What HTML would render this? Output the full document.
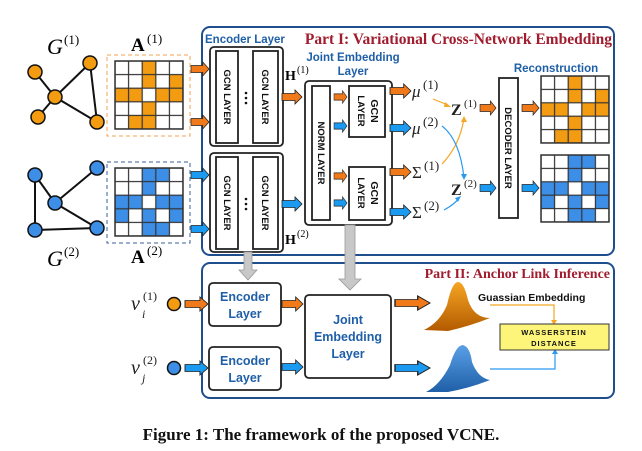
<!DOCTYPE html>
<html><head><meta charset="utf-8"><style>
body{margin:0;background:#fff;width:642px;height:451px;overflow:hidden}
svg{display:block}
.ss{font-family:"Liberation Sans",sans-serif;font-weight:bold}
.sr{font-family:"Liberation Serif",serif}
</style></head><body>
<svg width="642" height="451" viewBox="0 0 642 451" xmlns="http://www.w3.org/2000/svg">
<defs>
<path id="ar" d="M0,-3.5H13V-7L20,0L13,7V3.5H0Z" stroke="#222" stroke-width="0.8"/>
<pattern id="grid" x="0" y="0" width="13.6" height="13.6" patternUnits="userSpaceOnUse">
<rect width="13.6" height="13.6" fill="none" stroke="#333" stroke-width="1.2"/>
</pattern>
<linearGradient id="go" x1="0" y1="0" x2="0" y2="1"><stop offset="0" stop-color="#f5a623"/><stop offset="1" stop-color="#b35a00"/></linearGradient>
<linearGradient id="gb" x1="0" y1="0" x2="0" y2="1"><stop offset="0" stop-color="#5aa0e6"/><stop offset="1" stop-color="#1f5fa8"/></linearGradient>
</defs>

<rect x="202" y="27" width="412" height="228" rx="8" fill="none" stroke="#1f4e8c" stroke-width="2"/>
<rect x="202" y="263" width="412" height="135" rx="8" fill="none" stroke="#1f4e8c" stroke-width="2"/>
<text x="612" y="44" text-anchor="end" class="sr" font-weight="bold" font-size="15.5" fill="#a01c2e">Part I: Variational Cross-Network Embedding</text>
<text x="610" y="278" text-anchor="end" class="sr" font-weight="bold" font-size="14" fill="#a01c2e">Part II: Anchor Link Inference</text>

<g stroke="#111" stroke-width="2">
<line x1="35" y1="72" x2="55" y2="97"/><line x1="90" y1="63" x2="55" y2="97"/><line x1="55" y1="97" x2="38" y2="117"/><line x1="55" y1="97" x2="97" y2="122"/><line x1="90" y1="63" x2="97" y2="122"/>
</g>
<g fill="#f39c12" stroke="#111" stroke-width="1.5">
<circle cx="35" cy="72" r="7"/><circle cx="90" cy="63" r="7"/><circle cx="55" cy="97" r="7"/><circle cx="38" cy="117" r="7"/><circle cx="97" cy="122" r="7"/>
</g>
<text x="47" y="54" class="sr" font-style="italic" font-size="22">G</text><text x="64" y="44" class="sr" font-size="13">(1)</text>

<g stroke="#111" stroke-width="2">
<line x1="35" y1="175" x2="55" y2="203"/><line x1="97" y1="168" x2="55" y2="203"/><line x1="55" y1="203" x2="97" y2="228"/><line x1="35" y1="175" x2="35" y2="230"/><line x1="35" y1="230" x2="97" y2="228"/>
</g>
<g fill="#3d8ee6" stroke="#111" stroke-width="1.5">
<circle cx="35" cy="175" r="7"/><circle cx="97" cy="168" r="7"/><circle cx="55" cy="203" r="7"/><circle cx="35" cy="230" r="7"/><circle cx="97" cy="228" r="7"/>
</g>
<text x="47" y="266" class="sr" font-style="italic" font-size="22">G</text><text x="64" y="256" class="sr" font-size="13">(2)</text>

<rect x="107" y="55" width="83" height="81" fill="none" stroke="#f5a050" stroke-dasharray="4,3"/>
<g transform="translate(115,61)">
<rect width="68" height="68" fill="#fff"/>
<g fill="#f39c12">
<rect x="27.2" y="0" width="13.6" height="13.6"/>
<rect x="27.2" y="13.6" width="13.6" height="13.6"/><rect x="54.4" y="13.6" width="13.6" height="13.6"/>
<rect x="0" y="27.2" width="27.2" height="13.6"/><rect x="40.8" y="27.2" width="27.2" height="13.6"/>
<rect x="27.2" y="40.8" width="13.6" height="13.6"/>
<rect x="13.6" y="54.4" width="27.2" height="13.6"/>
</g>
<rect width="68" height="68" fill="url(#grid)" stroke="#333" stroke-width="1.5"/>
</g>
<text x="131" y="51" class="sr" font-weight="bold" font-size="19">A</text><text x="147" y="43" class="sr" font-size="13">(1)</text>

<rect x="107" y="162" width="83" height="81" fill="none" stroke="#3a5f9a" stroke-dasharray="4,3"/>
<g transform="translate(115,168)">
<rect width="68" height="68" fill="#fff"/>
<g fill="#3d8ee6">
<rect x="27.2" y="0" width="27.2" height="13.6"/>
<rect x="27.2" y="13.6" width="13.6" height="13.6"/>
<rect x="0" y="27.2" width="27.2" height="13.6"/><rect x="40.8" y="27.2" width="27.2" height="13.6"/>
<rect x="0" y="40.8" width="13.6" height="13.6"/><rect x="27.2" y="40.8" width="13.6" height="13.6"/><rect x="54.4" y="40.8" width="13.6" height="13.6"/>
<rect x="27.2" y="54.4" width="27.2" height="13.6"/>
</g>
<rect width="68" height="68" fill="url(#grid)" stroke="#333" stroke-width="1.5"/>
</g>
<text x="131" y="263" class="sr" font-weight="bold" font-size="19">A</text><text x="147" y="255" class="sr" font-size="13">(2)</text>

<use href="#ar" fill="#f07a1a" transform="translate(191,69) scale(0.9,1)"/>
<use href="#ar" fill="#f07a1a" transform="translate(191,122) scale(0.9,1)"/>
<use href="#ar" fill="#1a9af0" transform="translate(191,175) scale(0.9,1)"/>
<use href="#ar" fill="#1a9af0" transform="translate(191,229) scale(0.9,1)"/>

<text x="205" y="43" class="ss" font-size="11.5" fill="#1f5fa8">Encoder Layer</text>

<g fill="#fff" stroke="#222" stroke-width="1.8">
<rect x="210" y="47" width="73" height="99" rx="4"/>
<rect x="216" y="51" width="22" height="92"/><rect x="253" y="51" width="25" height="92"/>
<rect x="210" y="153" width="73" height="99" rx="4"/>
<rect x="216" y="157" width="22" height="92"/><rect x="253" y="157" width="25" height="92"/>
</g>
<g class="ss" font-size="9.5" fill="#111" text-anchor="middle">
<text transform="translate(224,97) rotate(90)">GCN LAYER</text>
<text transform="translate(262,97) rotate(90)">GCN LAYER</text>
<text transform="translate(224,203) rotate(90)">GCN LAYER</text>
<text transform="translate(262,203) rotate(90)">GCN LAYER</text>
</g>
<g fill="#111"><circle cx="246" cy="93" r="1.3"/><circle cx="246" cy="98" r="1.3"/><circle cx="246" cy="103" r="1.3"/>
<circle cx="246" cy="199" r="1.3"/><circle cx="246" cy="204" r="1.3"/><circle cx="246" cy="209" r="1.3"/></g>

<text x="285" y="80" class="sr" font-weight="bold" font-size="14">H</text><text x="297" y="73" class="sr" font-size="10">(1)</text>
<text x="285" y="244" class="sr" font-weight="bold" font-size="14">H</text><text x="297" y="237" class="sr" font-size="10">(2)</text>
<use href="#ar" fill="#f07a1a" transform="translate(282,97) scale(1,1)"/>
<use href="#ar" fill="#1a9af0" transform="translate(282,204) scale(1,1)"/>

<text x="353" y="61" text-anchor="middle" class="ss" font-size="11.5" fill="#1f5fa8">Joint Embedding</text>
<text x="353" y="75" text-anchor="middle" class="ss" font-size="11.5" fill="#1f5fa8">Layer</text>
<g fill="#fff" stroke="#222" stroke-width="1.8">
<rect x="305" y="81" width="87" height="144" rx="4"/>
<rect x="312" y="86" width="18" height="134"/>
<rect x="349" y="86" width="36" height="51"/>
<rect x="349" y="167" width="36" height="53"/>
</g>
<g class="ss" font-size="9.5" fill="#111" text-anchor="middle">
<text transform="translate(318,153) rotate(90)">NORM LAYER</text>
<text transform="translate(358,111) rotate(90)">LAYER</text>
<text transform="translate(371,111) rotate(90)" font-size="10.5">GCN</text>
<text transform="translate(358,193) rotate(90)">LAYER</text>
<text transform="translate(371,193) rotate(90)" font-size="10.5">GCN</text>
</g>
<use href="#ar" fill="#f07a1a" transform="translate(334,97) scale(0.65,0.9)"/>
<use href="#ar" fill="#1a9af0" transform="translate(334,126) scale(0.65,0.9)"/>
<use href="#ar" fill="#f07a1a" transform="translate(334,176) scale(0.65,0.9)"/>
<use href="#ar" fill="#1a9af0" transform="translate(334,203) scale(0.65,0.9)"/>

<use href="#ar" fill="#f07a1a" transform="translate(390,91) scale(1.05,1)"/>
<use href="#ar" fill="#1a9af0" transform="translate(390,128) scale(1.05,1)"/>
<use href="#ar" fill="#f07a1a" transform="translate(390,172) scale(1.05,1)"/>
<use href="#ar" fill="#1a9af0" transform="translate(390,212) scale(1.05,1)"/>
<g class="sr" fill="#222">
<text x="412" y="97" font-style="italic" font-size="17">μ</text><text x="423" y="89" font-size="13">(1)</text>
<text x="412" y="134" font-style="italic" font-size="17">μ</text><text x="423" y="126" font-size="13">(2)</text>
<text x="412" y="178" font-size="17">Σ</text><text x="424" y="170" font-size="13">(1)</text>
<text x="412" y="218" font-size="17">Σ</text><text x="424" y="210" font-size="13">(2)</text>
<text x="451" y="115" font-weight="bold" font-size="16">Z</text><text x="464" y="107" font-size="11">(1)</text>
<text x="451" y="195" font-weight="bold" font-size="16">Z</text><text x="464" y="187" font-size="11">(2)</text>
</g>
<g fill="none" stroke-width="1.2">
<path d="M433,99 L448,105" stroke="#f5a623"/>
<path d="M442,164 Q460,145 464,118" stroke="#f5a623"/>
<path d="M442,126 Q460,140 464,178" stroke="#2a9af0"/>
<path d="M444,210 Q455,204 459,198" stroke="#2a9af0"/>
</g>
<g>
<path d="M451,107 l-6,-5 l-1,5z" fill="#f5a623"/>
<path d="M464,116 l-3,6 l6,0z" fill="#f5a623"/>
<path d="M464,180 l-3,-6 l6,0z" fill="#2a9af0"/>
<path d="M461,196 l-6,2 l3,4z" fill="#2a9af0"/>
</g>
<use href="#ar" fill="#f07a1a" transform="translate(480,108) scale(0.8,1)"/>
<use href="#ar" fill="#1a9af0" transform="translate(480,188) scale(0.8,1)"/>

<rect x="499" y="78" width="19" height="140" fill="#fff" stroke="#222" stroke-width="1.8"/>
<text transform="translate(505,148) rotate(90)" text-anchor="middle" class="ss" font-size="9.5" fill="#111">DECODER LAYER</text>
<use href="#ar" fill="#f07a1a" transform="translate(522,108) scale(0.85,1)"/>
<use href="#ar" fill="#1a9af0" transform="translate(522,188) scale(0.85,1)"/>
<text x="556" y="72" text-anchor="middle" class="ss" font-size="11.5" fill="#1f5fa8">Reconstruction</text>

<g transform="translate(541,76) scale(1,0.985)">
<rect width="68" height="68" fill="#fff"/>
<g fill="#f39c12">
<rect x="27.2" y="0" width="13.6" height="13.6"/>
<rect x="27.2" y="13.6" width="13.6" height="13.6"/><rect x="54.4" y="13.6" width="13.6" height="13.6"/>
<rect x="0" y="27.2" width="27.2" height="13.6"/><rect x="40.8" y="27.2" width="27.2" height="13.6"/>
<rect x="27.2" y="40.8" width="13.6" height="13.6"/>
<rect x="13.6" y="54.4" width="27.2" height="13.6"/>
</g>
<rect width="68" height="68" fill="url(#grid)" stroke="#333" stroke-width="1.5"/>
</g>
<g transform="translate(541,155) scale(1,0.985)">
<rect width="68" height="68" fill="#fff"/>
<g fill="#3d8ee6">
<rect x="27.2" y="0" width="27.2" height="13.6"/>
<rect x="27.2" y="13.6" width="13.6" height="13.6"/>
<rect x="0" y="27.2" width="27.2" height="13.6"/><rect x="40.8" y="27.2" width="27.2" height="13.6"/>
<rect x="0" y="40.8" width="13.6" height="13.6"/><rect x="27.2" y="40.8" width="13.6" height="13.6"/><rect x="54.4" y="40.8" width="13.6" height="13.6"/>
<rect x="27.2" y="54.4" width="27.2" height="13.6"/>
</g>
<rect width="68" height="68" fill="url(#grid)" stroke="#333" stroke-width="1.5"/>
</g>

<path d="M244,252 H252 V270 H257 L248,280 L239,270 H244Z" fill="#c8c8c8" stroke="#999" stroke-width="0.8"/>
<path d="M345,225 H355 V279 H361 L350,290 L339,279 H345Z" fill="#c8c8c8" stroke="#999" stroke-width="0.8"/>

<g class="sr" fill="#222">
<text x="131" y="310" font-style="italic" font-size="20">v</text><text x="143" y="300" font-size="12">(1)</text><text x="142" y="318" font-style="italic" font-size="12">i</text>
<text x="131" y="374" font-style="italic" font-size="20">v</text><text x="143" y="364" font-size="12">(2)</text><text x="142" y="382" font-style="italic" font-size="12">j</text>
</g>
<circle cx="174" cy="304" r="6.5" fill="#f39c12" stroke="#111" stroke-width="1.5"/>
<circle cx="174" cy="368" r="6.5" fill="#3d8ee6" stroke="#111" stroke-width="1.5"/>
<use href="#ar" fill="#f07a1a" transform="translate(185,304) scale(1.15,1)"/>
<use href="#ar" fill="#1a9af0" transform="translate(185,368) scale(1.15,1)"/>
<g fill="#fff" stroke="#222" stroke-width="1.8">
<rect x="209" y="283" width="72" height="43" rx="4"/>
<rect x="209" y="347" width="72" height="43" rx="4"/>
<rect x="305" y="295" width="86" height="83" rx="4"/>
</g>
<g class="ss" font-size="12.5" fill="#1f5fa8" text-anchor="middle">
<text x="245" y="301">Encoder</text><text x="245" y="318">Layer</text>
<text x="245" y="365">Encoder</text><text x="245" y="382">Layer</text>
<text x="348" y="324">Joint</text><text x="348" y="341">Embedding</text><text x="348" y="358">Layer</text>
</g>
<use href="#ar" fill="#f07a1a" transform="translate(282,304) scale(1.05,1)"/>
<use href="#ar" fill="#1a9af0" transform="translate(282,367) scale(1.05,1)"/>
<use href="#ar" fill="#f07a1a" transform="translate(395,303) scale(1.75,1)"/>
<use href="#ar" fill="#1a9af0" transform="translate(395,368) scale(1.75,1)"/>
<path d="M424,330 Q440,322 447,305 Q452,282 458,282 Q464,282 468,300 Q474,318 490,318 Q470,326 448,331Z" fill="url(#go)"/>
<path d="M426,392 Q440,385 450,365 Q456,345 463,345 Q470,347 472,362 Q478,378 490,380 Q470,388 448,392Z" fill="url(#gb)"/>
<text x="478" y="301" class="ss" font-size="10.5" fill="#111">Guassian Embedding</text>
<polyline points="490,305 554,305 554,322" fill="none" stroke="#f5a623" stroke-width="1.2"/>
<path d="M551,320 h6 l-3,5z" fill="#f5a623"/>
<polyline points="490,369 555,369 555,352" fill="none" stroke="#2a9af0" stroke-width="1.2"/>
<path d="M552,354 h6 l-3,-5z" fill="#2a9af0"/>
<rect x="500" y="324" width="109" height="26" fill="#fdf57a" stroke="#333" stroke-width="1"/>
<text x="554" y="335" text-anchor="middle" class="ss" font-size="7.5" letter-spacing="1" fill="#111">WASSERSTEIN</text>
<text x="554" y="346" text-anchor="middle" class="ss" font-size="7.5" letter-spacing="1" fill="#111">DISTANCE</text>

<text x="321" y="440" text-anchor="middle" class="sr" font-weight="bold" font-size="17" fill="#111">Figure 1: The framework of the proposed VCNE.</text>
</svg>
</body></html>
